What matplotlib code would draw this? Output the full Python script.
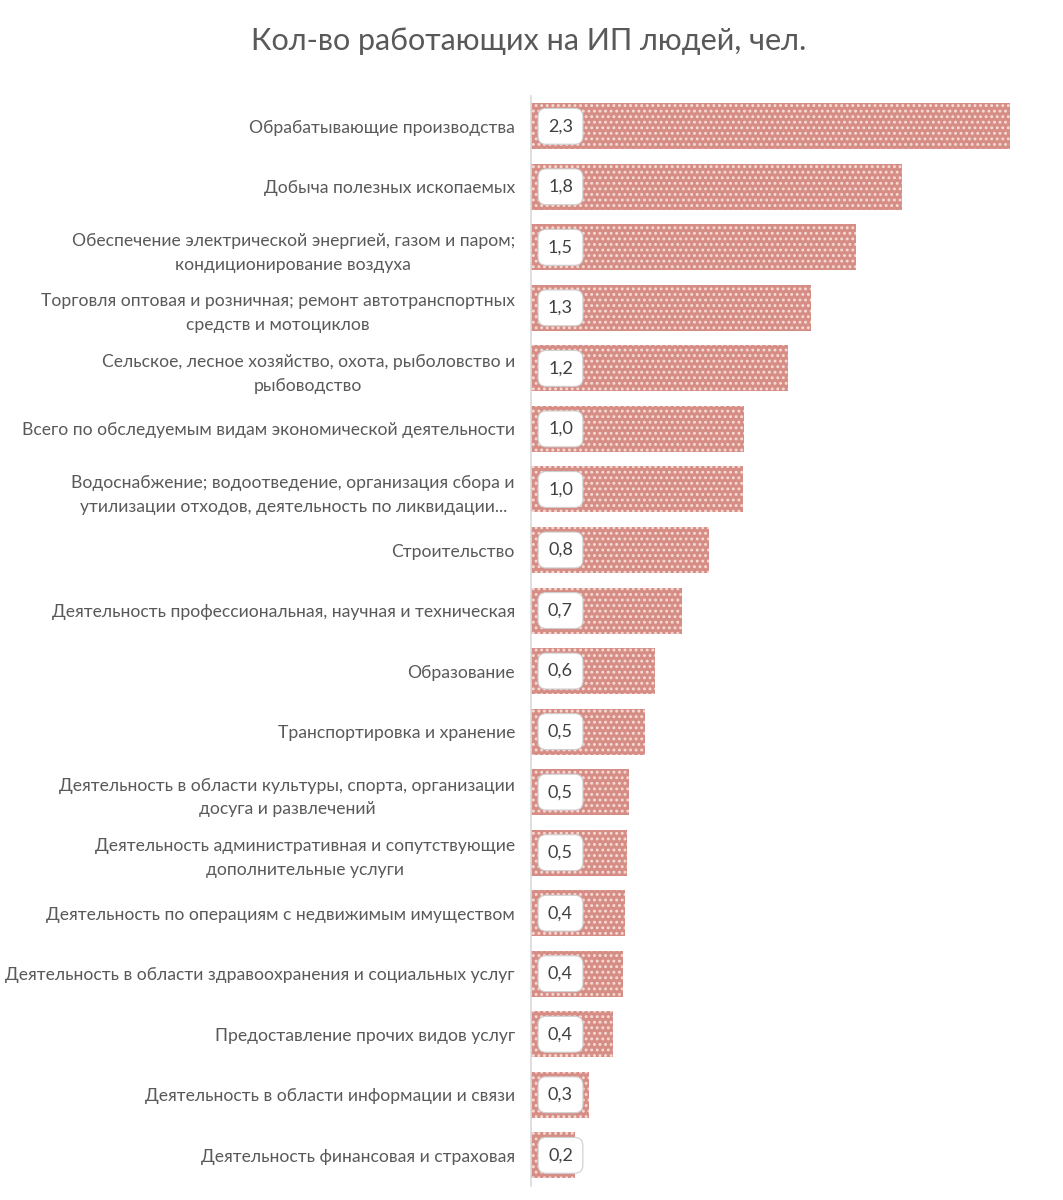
import numpy as np
import matplotlib.pyplot as plt

plt.rcParams['font.family'] = ['Lato', 'DejaVu Sans']
plt.rcParams['hatch.linewidth'] = 1.3

categories = [
    "Обрабатывающие производства",
    "Добыча полезных ископаемых",
    "Обеспечение электрической энергией, газом и паром;\nкондиционирование воздуха",
    "Торговля оптовая и розничная; ремонт автотранспортных\nсредств и мотоциклов",
    "Сельское, лесное хозяйство, охота, рыболовство и\nрыбоводство",
    "Всего по обследуемым видам экономической деятельности",
    "Водоснабжение; водоотведение, организация сбора и\nутилизации отходов, деятельность по ликвидации...",
    "Строительство",
    "Деятельность профессиональная, научная и техническая",
    "Образование",
    "Транспортировка и хранение",
    "Деятельность в области культуры, спорта, организации\nдосуга и развлечений",
    "Деятельность административная и сопутствующие\nдополнительные услуги",
    "Деятельность по операциям с недвижимым имуществом",
    "Деятельность в области здравоохранения и социальных услуг",
    "Предоставление прочих видов услуг",
    "Деятельность в области информации и связи",
    "Деятельность финансовая и страховая",
]
values = [2.27, 1.76, 1.54, 1.33, 1.22, 1.01, 1.005, 0.845, 0.715, 0.59,
          0.54, 0.465, 0.457, 0.447, 0.436, 0.39, 0.275, 0.21]

title = "Кол-во работающих на ИП людей, чел."

fig = plt.figure(figsize=(10.63, 12), dpi=100)
ax = fig.add_axes([0.4995, 0.012, 0.476, 0.908])

y = np.arange(len(categories))
ax.barh(y, values, height=0.76, color='#d68d85', edgecolor='#f7dcd5',
        hatch='...', linewidth=0)
ax.set_ylim(len(categories) - 0.5, -0.5)
ax.set_xlim(0, 2.4)

ax.set_yticks(y)
ax.set_yticklabels(categories, fontsize=12.6, color='#595959', linespacing=1.6)
for lab in ax.get_yticklabels():
    lab.set_multialignment('center')
ax.tick_params(axis='y', length=0, pad=11.5)
ax.set_xticks([])

for s in ['top', 'right', 'bottom']:
    ax.spines[s].set_visible(False)
ax.spines['left'].set_color('#d9d9d9')
ax.spines['left'].set_linewidth(1.2)

for yi, v in zip(y, values):
    ax.text(0.14, yi, f"{v:.1f}".replace('.', ','), ha='center', va='center',
            fontsize=13, color='#404040',
            bbox=dict(boxstyle='round,pad=0.55,rounding_size=0.45', fc='white',
                      ec='#cfcfcf', lw=0.8))

fig.text(0.497, 0.966, title, ha='center', va='center', fontsize=22, color='#595959')

fig.savefig('out.png', dpi=100, facecolor='white')
